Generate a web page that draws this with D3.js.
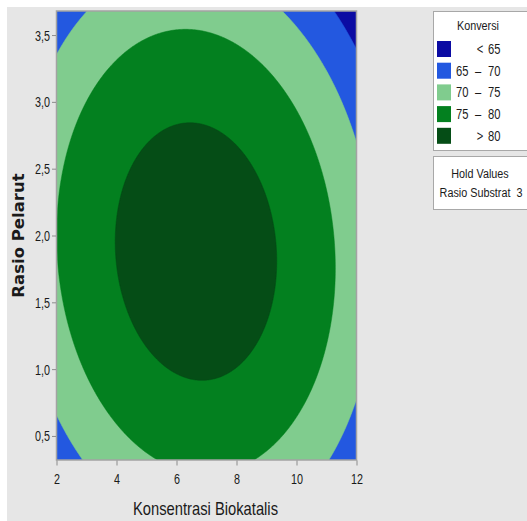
<!DOCTYPE html>
<html>
<head>
<meta charset="utf-8">
<script src="https://cdn.jsdelivr.net/npm/d3@7"></script>
<style>
  html, body { margin: 0; padding: 0; background: #ffffff; }
  svg { display: block; }
  text { font-family: "Liberation Sans", Arial, sans-serif; fill: #1a1a1a; }
</style>
</head>
<body>
<svg id="chart" width="527" height="521"></svg>
<script>
// Fitted response surface for Konversi (Rasio Substrat held at 3)
const modelTerms = ["Konstanta", "X", "Y", "X*X", "Y*Y", "X*Y"];
const modelCoef  = [55.49, 4.945, 11.275, -0.351, -2.738, -0.1474];

// Factor ranges
const xRange = [2, 12];        // Konsentrasi Biokatalis
const yRange = [0.32, 3.68];   // Rasio Pelarut

// Contour bands
const levels      = [65, 70, 75, 80];
const bandLabels  = ["< 65", "65 – 70", "70 – 75", "75 – 80", "> 80"];
const bandColors  = ["#0b0ba3", "#2358e0", "#80cc8e", "#03801f", "#054d16"];

// Axis ticks
const xTicks = [2, 4, 6, 8, 10, 12];
const yTicks = [0.5, 1.0, 1.5, 2.0, 2.5, 3.0, 3.5];

const holdName = "Rasio Substrat";
const holdValue = 3;

const konversi = (x, y) => {
  const t = [1, x, y, x * x, y * y, x * y];
  return d3.sum(t, (v, i) => v * modelCoef[i]);
};

const svg = d3.select("#chart");
const W = 527, H = 521;

// condensed text: horizontally squeezed glyphs anchored at (x, y)
function narrowText(parent, x, y, str, size, anchor = "start", squeeze = 0.8) {
  const g = parent.append("g").attr("transform", `translate(${x},${y}) scale(${squeeze},1)`);
  return g.append("text")
    .attr("text-anchor", anchor)
    .attr("xml:space", "preserve")
    .style("font-size", size + "px")
    .text(str);
}

// page background
svg.append("rect").attr("x", 7).attr("y", 7).attr("width", W - 7).attr("height", H - 7).attr("fill", "#e6e6e6");

const plot = { left: 56.5, right: 356.5, top: 11, bottom: 460 };
const x = d3.scaleLinear().domain(xRange).range([plot.left, plot.right]);
const y = d3.scaleLinear().domain(yRange).range([plot.bottom, plot.top]);

// evaluate the surface on a grid
const nx = 300, ny = 300;
const values = new Array(nx * ny);
for (let j = 0; j < ny; j++) {
  const yv = yRange[1] - (j + 0.5) / ny * (yRange[1] - yRange[0]);
  for (let i = 0; i < nx; i++) {
    const xv = xRange[0] + (i + 0.5) / nx * (xRange[1] - xRange[0]);
    values[j * nx + i] = konversi(xv, yv);
  }
}

const contours = d3.contours().size([nx, ny]).thresholds(levels)(values);

const toScreen = d3.geoTransform({
  point(gx, gy) {
    const xv = xRange[0] + gx / nx * (xRange[1] - xRange[0]);
    const yv = yRange[1] - gy / ny * (yRange[1] - yRange[0]);
    this.stream.point(x(xv), y(yv));
  }
});
const path = d3.geoPath(toScreen);

svg.append("clipPath").attr("id", "plotClip")
  .append("rect")
  .attr("x", plot.left).attr("y", plot.top)
  .attr("width", plot.right - plot.left).attr("height", plot.bottom - plot.top);

const g = svg.append("g").attr("clip-path", "url(#plotClip)");
g.append("rect")
  .attr("x", plot.left).attr("y", plot.top)
  .attr("width", plot.right - plot.left).attr("height", plot.bottom - plot.top)
  .attr("fill", bandColors[0]);

g.selectAll("path.band")
  .data(contours)
  .join("path")
  .attr("class", "band")
  .attr("d", path)
  .attr("fill", (d, i) => bandColors[i + 1])
  .attr("stroke", (d, i) => bandColors[i + 1])
  .attr("stroke-width", 0.5);

// frame
svg.append("rect")
  .attr("x", plot.left).attr("y", plot.top)
  .attr("width", plot.right - plot.left).attr("height", plot.bottom - plot.top)
  .attr("fill", "none").attr("stroke", "#a3a3a3").attr("stroke-width", 1.5);

// axes (tick marks from d3, labels condensed)
const fmt = d3.format(".1f");
const xAxis = d3.axisBottom(x).tickValues(xTicks).tickSize(5).tickFormat("");
const yAxis = d3.axisLeft(y).tickValues(yTicks).tickSize(4).tickFormat("");

const gx = svg.append("g").attr("transform", `translate(0,${plot.bottom + 0.5})`).call(xAxis);
const gy = svg.append("g").attr("transform", `translate(${plot.left - 0.5},0)`).call(yAxis);
[gx, gy].forEach(a => {
  a.select(".domain").remove();
  a.selectAll(".tick line").attr("stroke", "#8c8c8c");
});
gx.selectAll(".tick").each(function (d) {
  narrowText(d3.select(this), 0, 23, d3.format("d")(d), 15, "middle", 0.72);
});
gy.selectAll(".tick").each(function (d) {
  narrowText(d3.select(this), -6, 5, fmt(d).replace(".", ","), 15, "end", 0.72);
});

// axis titles
narrowText(svg, (plot.left + plot.right) / 2 - 1, 515, "Konsentrasi Biokatalis", 18, "middle", 0.82);

svg.append("text")
  .attr("transform", `translate(24,${(plot.top + plot.bottom) / 2}) rotate(-90)`)
  .attr("text-anchor", "middle")
  .style("font-family", "'DejaVu Sans', sans-serif")
  .style("font-weight", "bold").style("font-size", "16.5px")
  .text("Rasio Pelarut");

// legend
const lg = svg.append("g");
lg.append("rect").attr("x", 433.5).attr("y", 11.5).attr("width", 100).attr("height", 139)
  .attr("fill", "#ffffff").attr("stroke", "#a8a8a8");
narrowText(lg, 478, 30, "Konversi", 13.5, "middle");

const rows = lg.selectAll("g.row").data(bandLabels).join("g")
  .attr("class", "row")
  .attr("transform", (d, i) => `translate(0,${41 + i * 21.7})`);
rows.append("rect").attr("x", 437).attr("y", 0).attr("width", 14).attr("height", 16)
  .attr("fill", (d, i) => bandColors[i]);
rows.each(function (d) {
  const r = d3.select(this);
  const parts = d.split(" ");
  if (parts.length === 2) {
    narrowText(r, 480, 13, parts[0], 14, "middle");
    narrowText(r, 488, 13, parts[1], 14, "start");
  } else {
    narrowText(r, 456, 13, parts[0], 14, "start");
    narrowText(r, 478, 13, parts[1], 14, "middle");
    narrowText(r, 488, 13, parts[2], 14, "start");
  }
});

lg.append("rect").attr("x", 433.5).attr("y", 156.5).attr("width", 100).attr("height", 53)
  .attr("fill", "#ffffff").attr("stroke", "#a8a8a8");
narrowText(lg, 480, 178, "Hold Values", 13.5, "middle");
narrowText(lg, 481, 197, `${holdName}  ${holdValue}`, 13.5, "middle");
</script>
</body>
</html>
